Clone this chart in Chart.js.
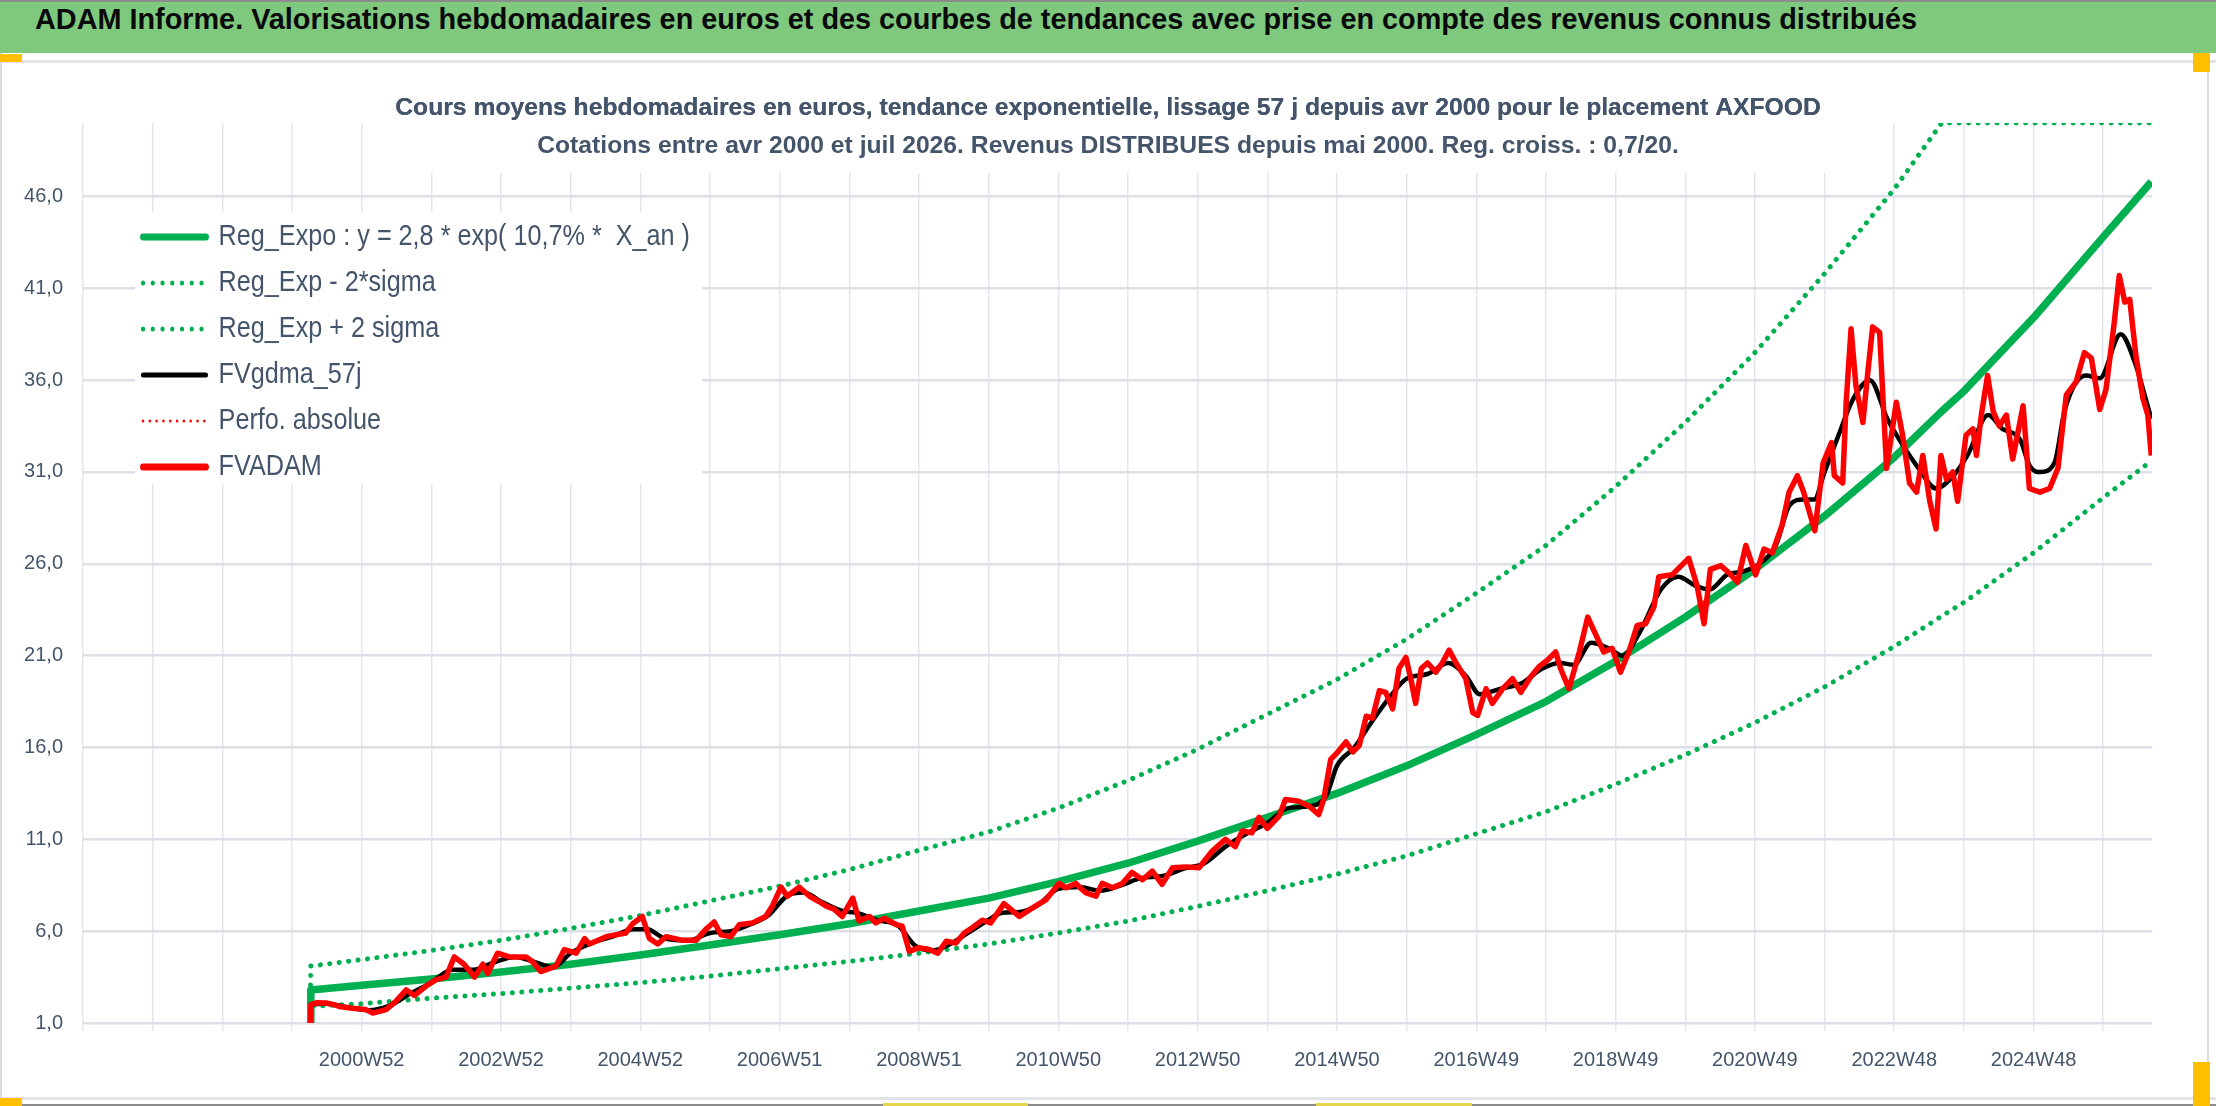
<!DOCTYPE html>
<html>
<head>
<meta charset="utf-8">
<script src="https://cdn.jsdelivr.net/npm/chart.js@4.4.1/dist/chart.umd.min.js"></script>
<style>
  html, body { margin: 0; padding: 0; background: #fff; }
  #wrap { position: relative; width: 2216px; height: 1106px; overflow: hidden; background: #fff; }
  #c { position: absolute; left: 0; top: 0; }
  .bar { position: absolute; }
  #band { position: absolute; left: 0; top: 2px; width: 2216px; height: 51px; background: #7fc97f; }
  #bandText { position: absolute; left: 35px; top: 0; line-height: 51px; white-space: nowrap;
              font: bold 30px 'Liberation Sans', Arial, sans-serif; color: #0a0a0a; transform-origin: 0 50%; }
</style>
</head>
<body>
<div id="wrap">
  <canvas id="c" width="2216" height="1106"></canvas>
  <div class="bar" style="left:0;top:0;width:2216px;height:2px;background:#8c8c8c"></div>
  <div id="band"><span id="bandText">ADAM Informe. Valorisations hebdomadaires en euros et des courbes de tendances avec prise en compte des revenus connus distribués</span></div>
  <div class="bar" style="left:0;top:60px;width:2216px;height:3px;background:#e2e4ea"></div>
  <div class="bar" style="left:0;top:1097px;width:2216px;height:3px;background:#e2e4ea"></div>
  <div class="bar" style="left:0;top:1104px;width:2216px;height:2px;background:#8c8c8c"></div>
  <div class="bar" style="left:0;top:53px;width:2px;height:1051px;background:#dcdcdc"></div>
  <div class="bar" style="left:2207px;top:53px;width:2px;height:1051px;background:#dcdcdc"></div>
  <div class="bar" style="left:0;top:54px;width:22px;height:8px;background:#ffc000"></div>
  <div class="bar" style="left:0;top:1098px;width:22px;height:8px;background:#ffc000"></div>
  <div class="bar" style="left:2193px;top:53px;width:17px;height:19px;background:#ffc000"></div>
  <div class="bar" style="left:2193px;top:1062px;width:17px;height:44px;background:#ffc000"></div>
  <div class="bar" style="left:883px;top:1103px;width:145px;height:3px;background:#e6d44a"></div>
  <div class="bar" style="left:1316px;top:1103px;width:156px;height:3px;background:#e6d44a"></div>
</div>
<script>
// ---- data ----
var subtitleLines = [
  'Cours moyens hebdomadaires en euros, tendance exponentielle, lissage 57 j depuis avr 2000 pour le placement AXFOOD',
  'Cotations entre avr 2000 et juil 2026. Revenus DISTRIBUES depuis mai 2000. Reg. croiss. : 0,7/20.'
];

var xTickValues = [1997, 1998, 1999, 2000, 2001, 2002, 2003, 2004, 2005, 2006,
                   2007, 2008, 2009, 2010, 2011, 2012, 2013, 2014, 2015, 2016,
                   2017, 2018, 2019, 2020, 2021, 2022, 2023, 2024, 2025, 2026];
var xTickLabels = ['', '', '', '', '2000W52', '', '2002W52', '', '2004W52', '',
                   '2006W51', '', '2008W51', '', '2010W50', '', '2012W50', '', '2014W50', '',
                   '2016W49', '', '2018W49', '', '2020W49', '', '2022W48', '', '2024W48', ''];
var yTickValues = [1, 6, 11, 16, 21, 26, 31, 36, 41, 46];
var yTickLabels = ['1,0', '6,0', '11,0', '16,0', '21,0', '26,0', '31,0', '36,0', '41,0', '46,0'];

// trend curves (exponential regression and +/- 2 sigma)
var trendYears = [2000.26, 2000.27, 2001, 2002, 2003, 2004, 2005, 2006, 2007, 2008,
                  2009, 2010, 2011, 2012, 2013, 2014, 2015, 2016, 2017, 2018,
                  2019, 2020, 2021, 2022, 2023, 2023.68, 2024, 2025, 2026, 2026.69];
var regExpo = [1.0, 2.8, 3.05, 3.4, 3.78, 4.2, 4.7, 5.25, 5.8, 6.4,
               7.1, 7.8, 8.7, 9.7, 10.9, 12.2, 13.5, 15.0, 16.7, 18.5,
               20.7, 23.1, 25.7, 28.6, 31.8, 34.3, 35.4, 39.4, 43.8, 46.8];
var regLow = [1.0, 1.9, 2.05, 2.35, 2.6, 2.9, 3.2, 3.55, 3.95, 4.35,
              4.8, 5.3, 5.9, 6.55, 7.35, 8.2, 9.1, 10.1, 11.3, 12.5,
              14.0, 15.6, 17.35, 19.3, 21.5, 23.15, 23.9, 26.6, 29.6, 31.6];
var regHigh = [1.0, 4.1, 4.45, 4.95, 5.5, 6.15, 6.85, 7.65, 8.45, 9.35,
               10.4, 11.4, 12.7, 14.2, 15.9, 17.8, 19.7, 21.9, 24.4, 27.0,
               30.2, 33.7, 37.5, 41.8, 46.4, 50, 50, 50, 50, 50];

// FVADAM weekly valuation (sampled)
var fvYears = [
  2000.26, 2000.27, 2000.35, 2000.49, 2000.60, 2000.68, 2000.87, 2001.06, 2001.16, 2001.35,
  2001.49, 2001.64, 2001.76, 2001.92, 2002.07, 2002.21, 2002.33, 2002.47, 2002.62, 2002.74,
  2002.81, 2002.95, 2003.12, 2003.36, 2003.45, 2003.57, 2003.79, 2003.91, 2004.08, 2004.20,
  2004.27, 2004.51, 2004.79, 2004.89, 2005.03, 2005.13, 2005.25, 2005.37, 2005.61, 2005.80,
  2005.94, 2006.06, 2006.16, 2006.30, 2006.42, 2006.61, 2006.80, 2006.90, 2007.02, 2007.11,
  2007.28, 2007.43, 2007.57, 2007.67, 2007.78, 2007.90, 2008.05, 2008.14, 2008.29, 2008.38,
  2008.50, 2008.67, 2008.76, 2008.86, 2009.00, 2009.15, 2009.27, 2009.39, 2009.53, 2009.65,
  2009.77, 2009.91, 2010.03, 2010.22, 2010.44, 2010.63, 2010.82, 2011.01, 2011.11, 2011.25,
  2011.39, 2011.54, 2011.63, 2011.78, 2011.92, 2012.06, 2012.21, 2012.35, 2012.49, 2012.64,
  2012.83, 2013.02, 2013.21, 2013.40, 2013.54, 2013.64, 2013.78, 2013.88, 2014.00, 2014.17,
  2014.26, 2014.45, 2014.60, 2014.74, 2014.81, 2014.91, 2015.00, 2015.13, 2015.23, 2015.32,
  2015.42, 2015.51, 2015.61, 2015.70, 2015.80, 2015.89, 2015.99, 2016.06, 2016.13, 2016.21,
  2016.30, 2016.42, 2016.52, 2016.61, 2016.71, 2016.85, 2016.95, 2017.02, 2017.14, 2017.23,
  2017.38, 2017.52, 2017.64, 2017.78, 2017.90, 2018.02, 2018.14, 2018.21, 2018.33, 2018.48,
  2018.60, 2018.72, 2018.83, 2018.95, 2019.07, 2019.19, 2019.31, 2019.43, 2019.55, 2019.62,
  2019.81, 2020.05, 2020.17, 2020.27, 2020.36, 2020.51, 2020.63, 2020.75, 2020.87, 2021.01,
  2021.13, 2021.25, 2021.39, 2021.49, 2021.61, 2021.70, 2021.86, 2021.98, 2022.10, 2022.14,
  2022.26, 2022.31, 2022.38, 2022.45, 2022.55, 2022.62, 2022.69, 2022.79, 2022.89, 2023.03,
  2023.12, 2023.22, 2023.32, 2023.41, 2023.51, 2023.60, 2023.67, 2023.75, 2023.84, 2023.91,
  2024.03, 2024.13, 2024.18, 2024.25, 2024.34, 2024.42, 2024.51, 2024.61, 2024.70, 2024.85,
  2024.94, 2025.09, 2025.23, 2025.35, 2025.47, 2025.61, 2025.73, 2025.83, 2025.95, 2026.04,
  2026.16, 2026.23, 2026.31, 2026.38, 2026.47, 2026.57, 2026.64, 2026.69
];
var fvadam = [
  1.0, 2.0, 2.1, 2.09, 2.0, 1.9, 1.8, 1.73, 1.54, 1.73,
  2.18, 2.8, 2.5, 3.0, 3.36, 3.5, 4.6, 4.2, 3.5, 4.2,
  3.7, 4.8, 4.6, 4.6, 4.35, 3.8, 4.1, 5.0, 4.8, 5.6,
  5.3, 5.7, 5.9, 6.4, 6.8, 5.6, 5.3, 5.7, 5.5, 5.5,
  6.1, 6.5, 5.8, 5.7, 6.35, 6.45, 6.8, 7.4, 8.4, 7.9,
  8.4, 7.9, 7.6, 7.36, 7.2, 6.8, 7.8, 6.55, 6.8, 6.45,
  6.7, 6.36, 6.27, 4.9, 5.1, 5.0, 4.8, 5.45, 5.36, 5.9,
  6.2, 6.6, 6.45, 7.5, 6.8, 7.27, 7.7, 8.6, 8.36, 8.6,
  8.1, 7.9, 8.6, 8.36, 8.6, 9.2, 8.8, 9.27, 8.55, 9.45,
  9.5, 9.45, 10.36, 11.0, 10.6, 11.45, 11.35, 12.2, 11.6, 12.26,
  13.17, 13.08, 12.8, 12.35, 13.17, 15.35, 15.7, 16.3, 15.76, 16.1,
  17.7, 17.6, 19.1, 19.0, 18.1, 20.3, 20.9, 19.75, 18.4, 20.3,
  20.6, 20.1, 20.65, 21.3, 20.6, 19.75, 17.9, 17.75, 19.2, 18.4,
  19.2, 19.75, 19.0, 19.84, 20.4, 20.75, 21.2, 20.3, 19.2, 21.2,
  23.1, 22.1, 21.2, 21.4, 20.1, 21.2, 22.65, 22.74, 23.65, 25.3,
  25.4, 26.3, 24.8, 22.74, 25.7, 25.9, 25.5, 25.0, 27.0, 25.4,
  26.8, 26.6, 28.1, 29.9, 30.8, 29.9, 27.8, 31.5, 32.6, 30.8,
  30.4, 34.8, 38.8, 35.7, 33.7, 36.4, 38.9, 38.6, 31.2, 34.8,
  33.0, 30.4, 29.9, 31.9, 29.4, 27.9, 31.9, 30.6, 31.0, 29.4,
  33.0, 33.35, 31.9, 34.1, 36.25, 34.3, 33.5, 34.1, 31.7, 34.6,
  30.1, 29.9, 30.1, 31.2, 35.2, 35.9, 37.5, 37.2, 34.4, 35.5,
  39.2, 41.7, 40.25, 40.4, 37.3, 35.0, 34.1, 31.9
];

// 57 day moving average
var maYears = [
  2000.26, 2000.27, 2000.50, 2000.80, 2001.10, 2001.40, 2001.70, 2002.00, 2002.30, 2002.60,
  2002.90, 2003.20, 2003.50, 2003.75, 2004.00, 2004.30, 2004.60, 2004.90, 2005.10, 2005.35,
  2005.70, 2006.00, 2006.30, 2006.60, 2006.85, 2007.10, 2007.35, 2007.60, 2007.90, 2008.10,
  2008.40, 2008.70, 2008.95, 2009.20, 2009.45, 2009.70, 2009.95, 2010.20, 2010.45, 2010.70,
  2011.00, 2011.30, 2011.60, 2011.90, 2012.20, 2012.50, 2012.80, 2013.10, 2013.40, 2013.70,
  2014.00, 2014.30, 2014.60, 2014.85, 2015.00, 2015.25, 2015.50, 2015.75, 2016.00, 2016.30,
  2016.60, 2016.85, 2017.05, 2017.35, 2017.65, 2017.95, 2018.20, 2018.40, 2018.65, 2018.90,
  2019.10, 2019.35, 2019.65, 2019.90, 2020.15, 2020.35, 2020.60, 2020.85, 2021.10, 2021.30,
  2021.50, 2021.70, 2021.85, 2022.00, 2022.20, 2022.40, 2022.65, 2022.90, 2023.10, 2023.35,
  2023.60, 2023.85, 2024.05, 2024.35, 2024.55, 2024.80, 2024.95, 2025.10, 2025.30, 2025.45,
  2025.75, 2025.95, 2026.25, 2026.45, 2026.69
];
var fvgdma = [
  1.0, 2.0, 2.05, 1.85, 1.7, 1.95, 2.6, 3.2, 3.9, 3.9,
  4.3, 4.6, 4.3, 4.05, 4.8, 5.35, 5.7, 6.1, 6.1, 5.6,
  5.5, 5.9, 6.0, 6.4, 6.9, 7.9, 8.1, 7.6, 7.1, 7.0,
  6.6, 6.3, 5.2, 4.95, 5.3, 5.9, 6.5, 7.0, 7.05, 7.4,
  8.3, 8.4, 8.2, 8.5, 8.9, 9.0, 9.4, 9.7, 10.6, 11.3,
  11.9, 12.7, 12.8, 13.4, 15.0, 16.0, 17.4, 18.7, 19.75, 20.0,
  20.6, 19.9, 18.9, 19.2, 19.5, 20.3, 20.6, 20.5, 21.7, 21.4,
  21.0, 22.3, 24.6, 25.3, 24.8, 24.6, 25.4, 25.6, 26.1, 27.0,
  29.2, 29.5, 29.5, 31.0, 33.0, 34.9, 36.0, 33.9, 32.6, 31.2,
  30.1, 30.8, 31.9, 34.1, 33.35, 32.8, 31.3, 31.0, 31.5, 34.4,
  36.25, 36.1, 38.5, 37.0, 33.9
];

// ---- helpers ----
function pts(xs, ys) {
  return xs.map(function (x, i) { return { x: x, y: ys[i] }; });
}

var SANS = "'Liberation Sans', Arial, sans-serif";
var SLATE = '#44546a';
var GREEN = '#00b050';
var LEGEND_SQUEEZE = 0.84;   // the original legend font is a narrow one

// white backing behind the subtitle and the legend (they sit over the grid)
var boxesPlugin = {
  id: 'boxes',
  afterLayout: function (chart) {
    var lg = chart.legend, ca = chart.chartArea;
    lg.left = ca.left + 44;
    lg.top = ca.top + 83;
    lg.right = ca.right;
    lg.bottom = ca.bottom;
    if (!lg._drawLater) {
      lg._drawLater = lg.draw;
      lg.draw = function () {};
    }
  },
  beforeDatasetsDraw: function (chart) {
    var ctx = chart.ctx;
    ctx.save();
    ctx.fillStyle = '#ffffff';

    var t = chart.titleBlock;
    var tf = t.options.font;
    ctx.font = 'bold ' + tf.size + 'px ' + SANS;
    var w = Math.max.apply(null, subtitleLines.map(function (s) { return ctx.measureText(s).width; }));
    var cx = (t.left + t.right) / 2;
    ctx.fillRect(cx - w / 2 - 8, chart.chartArea.top - 2, w + 16, 52);
    t.draw();

    var lg = chart.legend;
    var lo = lg.options.labels;
    var fs = lo.font.size;
    ctx.font = fs + 'px ' + SANS;
    var tw = Math.max.apply(null, chart.data.datasets.map(function (d) { return ctx.measureText(d.label).width; }));
    var lx = lg.left + lo.padding;
    var n = chart.data.datasets.length;
    ctx.fillRect(lx - 8, lg.top + lo.padding - 10,
                 (lo.pointStyleWidth + fs / 2 + tw) * LEGEND_SQUEEZE + 20,
                 n * (fs + lo.padding) - 4);
    ctx.translate(lx, 0);
    ctx.scale(LEGEND_SQUEEZE, 1);
    ctx.translate(-lx, 0);
    lg._drawLater();
    ctx.restore();
  }
};

var ctx = document.getElementById('c').getContext('2d');
var chart = new Chart(ctx, {
  type: 'line',
  data: {
    datasets: [{
      label: 'Reg_Expo : y = 2,8 * exp( 10,7% *  X_an )',
      data: pts(trendYears, regExpo),
      borderColor: GREEN,
      borderWidth: 7.5,
      borderJoinStyle: 'round',
      legendLineWidth: 7,
      order: 3
    }, {
      label: 'Reg_Exp - 2*sigma',
      data: pts(trendYears, regLow),
      borderColor: GREEN,
      borderWidth: 5,
      borderDash: [0.1, 9.4],
      borderCapStyle: 'round',
      legendLineWidth: 5,
      legendDash: [0.1, 11.5],
      order: 4
    }, {
      label: 'Reg_Exp + 2 sigma',
      data: pts(trendYears, regHigh),
      borderColor: GREEN,
      borderWidth: 5,
      borderDash: [0.1, 9.4],
      borderCapStyle: 'round',
      legendLineWidth: 5,
      legendDash: [0.1, 11.5],
      order: 4
    }, {
      label: 'FVgdma_57j',
      data: pts(maYears, fvgdma),
      borderColor: '#000000',
      borderWidth: 4.5,
      cubicInterpolationMode: 'monotone',
      legendLineWidth: 5,
      order: 2
    }, {
      label: 'Perfo. absolue',
      data: [],
      borderColor: '#ff0000',
      borderWidth: 3,
      borderDash: [0.1, 6.6],
      borderCapStyle: 'round',
      legendLineWidth: 3,
      legendDash: [0.1, 8],
      order: 1
    }, {
      label: 'FVADAM',
      data: pts(fvYears, fvadam),
      borderColor: '#ff0000',
      borderWidth: 5.5,
      borderJoinStyle: 'round',
      legendLineWidth: 7,
      order: 0
    }]
  },
  options: {
    responsive: false,
    devicePixelRatio: 1,
    animation: false,
    events: [],
    elements: { point: { radius: 0 } },
    layout: { padding: { top: 70, left: 0, right: 0, bottom: 0 } },
    plugins: {
      title: {
        display: true,
        text: subtitleLines,
        color: SLATE,
        font: { family: SANS, size: 24.7, weight: 'bold', lineHeight: 1.52 },
        padding: { top: 19.5, bottom: -41.6 }
      },
      legend: {
        position: 'chartArea',
        align: 'start',
        labels: {
          usePointStyle: true,
          pointStyleWidth: 75,
          padding: 16,
          color: SLATE,
          font: { family: SANS, size: 30 },
          generateLabels: function (chart) {
            return chart.data.datasets.map(function (ds, i) {
              return {
                text: ds.label,
                datasetIndex: i,
                hidden: false,
                strokeStyle: ds.borderColor,
                fillStyle: ds.borderColor,
                lineWidth: ds.legendLineWidth,
                lineDash: ds.legendDash || [],
                lineCap: 'round',
                pointStyle: 'line',
                fontColor: SLATE
              };
            });
          }
        }
      },
      tooltip: { enabled: false }
    },
    scales: {
      x: {
        type: 'linear',
        min: 1997,
        max: 2026.7,
        afterBuildTicks: function (axis) {
          axis.ticks = xTickValues.map(function (v) { return { value: v }; });
        },
        afterFit: function (axis) { axis.height = 83; },
        border: { display: false },
        grid: { color: '#e3e6ec', lineWidth: 1.5, drawTicks: true, tickLength: 8 },
        ticks: {
          autoSkip: false,
          maxRotation: 0,
          minRotation: 0,
          padding: 17,
          color: SLATE,
          font: { family: SANS, size: 20 },
          callback: function (v, i) { return xTickLabels[i]; }
        }
      },
      y: {
        type: 'linear',
        position: 'left',
        min: 1,
        max: 50,
        afterBuildTicks: function (axis) {
          axis.ticks = yTickValues.map(function (v) { return { value: v }; });
        },
        afterFit: function (axis) { axis.width = 83; },
        border: { display: false },
        grid: { color: '#dde0e7', lineWidth: 2.5, drawTicks: false },
        ticks: {
          padding: 20,
          color: SLATE,
          font: { family: SANS, size: 20 },
          callback: function (v, i) { return yTickLabels[i]; }
        }
      },
      yRight: {
        type: 'linear',
        position: 'right',
        display: true,
        afterFit: function (axis) { axis.width = 64; },
        border: { display: false },
        grid: { display: false, drawTicks: false },
        ticks: { display: false }
      }
    }
  },
  plugins: [boxesPlugin]
});

// fit the banner title to its width in the original
function fitBand() {
  var span = document.getElementById('bandText');
  span.style.transform = 'none';
  var k = 1882 / span.getBoundingClientRect().width;
  span.style.transform = 'scaleX(' + k + ')';
}
fitBand();
if (document.fonts && document.fonts.ready) { document.fonts.ready.then(fitBand); }
</script>
</body>
</html>
